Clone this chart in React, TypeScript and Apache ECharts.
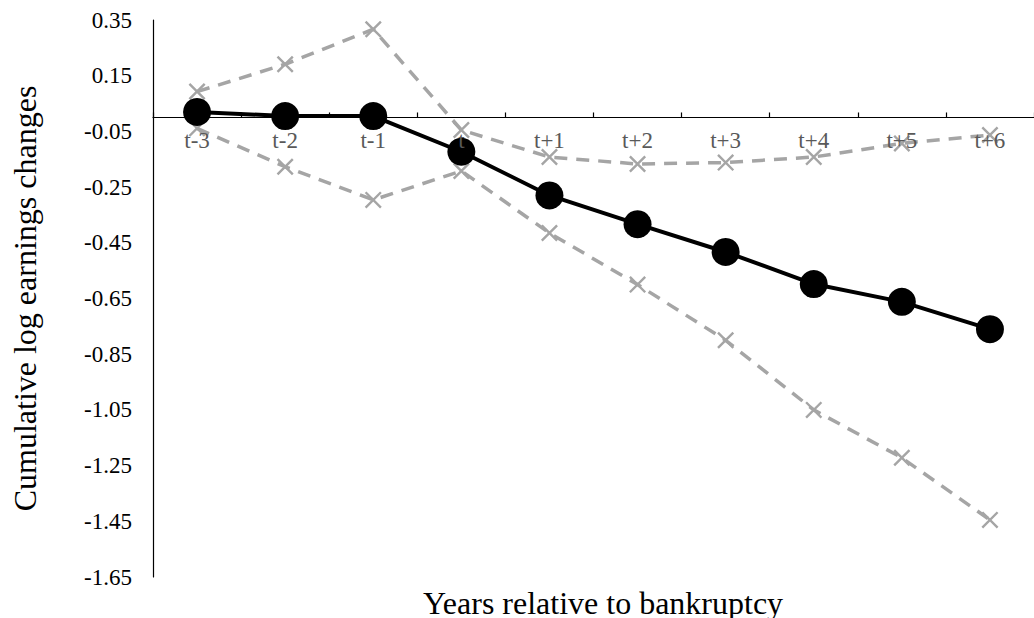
import React, { useEffect, useRef } from "react";
import * as echarts from "echarts";

const categories = ["t-3", "t-2", "t-1", "t", "t+1", "t+2", "t+3", "t+4", "t+5", "t+6"];
const mainValues = [0.02, 0.005, 0.005, -0.123, -0.28, -0.383, -0.483, -0.598, -0.662, -0.76];
const upperValues = [0.093, 0.191, 0.317, -0.045, -0.142, -0.167, -0.162, -0.142, -0.093, -0.063];
const lowerValues = [-0.039, -0.177, -0.296, -0.192, -0.415, -0.6, -0.8, -1.05, -1.222, -1.445];
const yTicks = [0.35, 0.15, -0.05, -0.25, -0.45, -0.65, -0.85, -1.05, -1.25, -1.45, -1.65];
const yMin = -1.65;
const yMax = 0.35;

const FONT = "'Liberation Serif', 'Times New Roman', serif";
const CROSS = "path://M0,1L1,0L10,9L9,10ZM9,0L10,1L1,10L0,9Z";

export default function App() {
  const ref = useRef<HTMLDivElement>(null);
  useEffect(() => {
    if (!ref.current) return;
    const chart = echarts.init(ref.current, undefined, { renderer: "svg" });
    const gray = "#A5A5A5";
    const gridTop = 20;
    const gridHeight = 557;
    // the category axis sits on the y = 0 line
    const zeroOffset = -((yMax - 0) / (yMax - yMin)) * gridHeight;
    const dashed = (name: string, data: number[]) => ({
      name,
      type: "line",
      data,
      symbol: CROSS,
      symbolSize: 17,
      itemStyle: { color: gray },
      lineStyle: { color: gray, width: 3.5, type: [13, 9] },
      z: 2,
    });
    chart.setOption({
      animation: false,
      backgroundColor: "#ffffff",
      textStyle: { fontFamily: FONT },
      grid: { left: 153, top: gridTop, width: 888, height: gridHeight, containLabel: false },
      xAxis: {
        type: "category",
        data: categories,
        position: "top",
        offset: zeroOffset,
        boundaryGap: true,
        axisLine: { onZero: false, lineStyle: { color: "#000", width: 1.2 } },
        axisTick: { show: true, inside: false, length: 5, lineStyle: { color: "#000", width: 1.2 } },
        axisLabel: { inside: true, color: "#595959", fontSize: 23, fontFamily: FONT, margin: 12, interval: 0 },
        splitLine: { show: false },
        z: 4,
      },
      yAxis: {
        type: "value",
        min: yMin,
        max: yMax,
        axisLine: { show: true, lineStyle: { color: "#000", width: 1.2 } },
        axisTick: { show: false },
        splitLine: { show: false },
        axisLabel: {
          customValues: yTicks,
          color: "#000",
          fontSize: 23,
          fontFamily: FONT,
          margin: 21,
          formatter: (v: number) => v.toFixed(2),
        },
        name: "Cumulative log earnings changes",
        nameLocation: "middle",
        nameGap: 112,
        nameTextStyle: { color: "#000", fontSize: 32, fontFamily: FONT },
      },
      graphic: [
        {
          type: "text",
          x: 603,
          y: 603,
          style: {
            text: "Years relative to bankruptcy",
            font: `32px ${FONT}`,
            fill: "#000",
            align: "center",
            verticalAlign: "middle",
          },
        },
      ],
      series: [
        dashed("Upper", upperValues),
        dashed("Lower", lowerValues),
        {
          name: "Mean",
          type: "line",
          data: mainValues,
          symbol: "circle",
          symbolSize: 28,
          itemStyle: { color: "#000" },
          lineStyle: { color: "#000", width: 4 },
          z: 3,
        },
      ],
    });
    return () => chart.dispose();
  }, []);
  return (
    <div
      ref={ref}
      style={{ position: "absolute", left: 0, top: 0, width: 1034, height: 618, background: "#fff" }}
    />
  );
}
